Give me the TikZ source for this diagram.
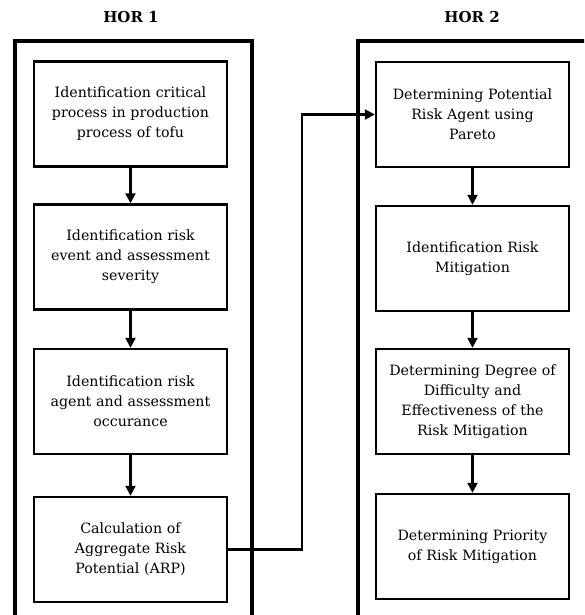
\documentclass[tikz,border=0pt]{standalone}
\usepackage{fontspec}
\setmainfont{DejaVu Serif}
\usetikzlibrary{arrows.meta}
\begin{document}
\begin{tikzpicture}[x=1pt,y=-1pt,
  stepbox/.style={draw, line width=2.4pt, minimum width=193pt, minimum height=105pt,
    text width=190pt, align=center, inner sep=0pt,
    font=\fontsize{14.2}{20}\selectfont},
  frame/.style={draw, line width=3.2pt},
  head/.style={font=\fontsize{15}{18}\selectfont\bfseries},
  arr/.style={line width=2.2pt, -{Triangle[length=10pt,width=10pt]}}]
\useasboundingbox (0,0) rectangle (584,615);
\clip (0,0) rectangle (584,615);
\draw[frame] (15,640) -- (15,41) -- (252,41) -- (252,640);
\draw[frame] (358,640) -- (358,41) -- (620,41);
\node[head] (h1) at (131,17) {HOR 1};
\node[head] (h2) at (472,17) {HOR 2};
\node[stepbox] (b1) at (130.5,114) {Identification critical\\process in production\\process of tofu};
\node[stepbox] (b2) at (130.5,257) {Identification risk\\event and assessment\\severity};
\node[stepbox] (b3) at (130.5,401.5) {Identification risk\\agent and assessment\\occurance};
\node[stepbox] (b4) at (130.5,549.5) {Calculation of\\Aggregate Risk\\Potential (ARP)};
\node[stepbox] (r1) at (472.5,114.5) {Determining Potential\\Risk Agent using\\Pareto};
\node[stepbox] (r2) at (472.5,258.5) {Identification Risk\\Mitigation};
\node[stepbox] (r3) at (472.5,401.5) {Determining Degree of\\Difficulty and\\Effectiveness of the\\Risk Mitigation};
\node[stepbox] (r4) at (472.5,546.5) {Determining Priority\\of Risk Mitigation};
\draw[arr] (b1) -- (b2);
\draw[arr] (b2) -- (b3);
\draw[arr] (b3) -- (b4);
\draw[arr] (r1) -- (r2);
\draw[arr] (r2) -- (r3);
\draw[arr] (r3) -- (r4);
\draw[arr] (b4.east) -- ++(74,0) |- (r1.west);
\end{tikzpicture}
\end{document}
